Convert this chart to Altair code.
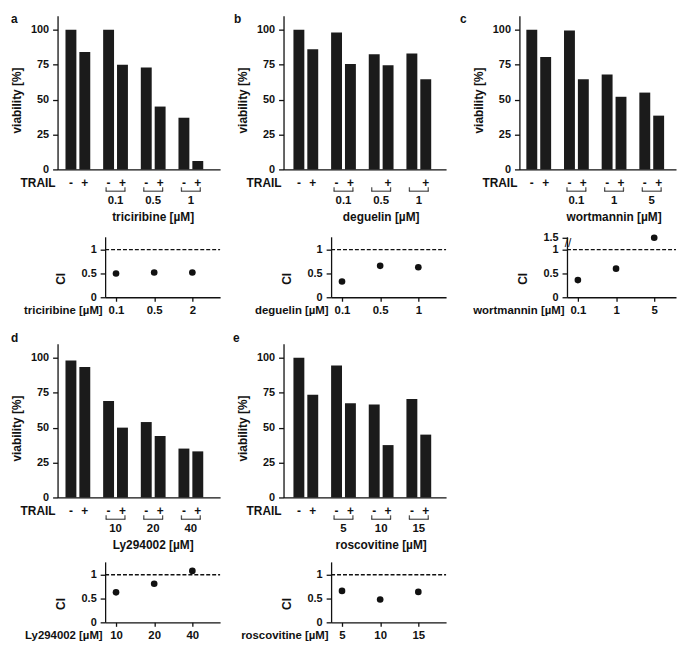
import altair as alt
import pandas as pd

FONT = "Liberation Sans"
INK = "#111111"
BAR = "#1b1b1b"

# ------------------------------------------------------------------ data
TRAIL = ["-", "+"]

A_DRUG = "triciribine"
A_CONC = ["", "0.1", "0.5", "1"]
A_MINUS = [100, 100, 73, 37]
A_PLUS = [84, 75, 45, 6]
A_MINUS_LABEL = ["-", "-", "-", "-"]
A_CI_DOSE = ["0.1", "0.5", "2"]
A_CI = [0.50, 0.52, 0.52]

B_DRUG = "deguelin"
B_CONC = ["", "0.1", "0.5", "1"]
B_MINUS = [100, 98, 82.5, 83]
B_PLUS = [86, 75.5, 74.5, 64.5]
B_MINUS_LABEL = ["-", "-", "", ""]
B_CI_DOSE = ["0.1", "0.5", "1"]
B_CI = [0.33, 0.66, 0.63]

C_DRUG = "wortmannin"
C_CONC = ["", "0.1", "1", "5"]
C_MINUS = [100, 99.5, 68, 55]
C_PLUS = [80.5, 64.5, 52, 38.5]
C_MINUS_LABEL = ["-", "-", "-", "-"]
C_CI_DOSE = ["0.1", "1", "5"]
C_CI = [0.36, 0.60, 1.5]

D_DRUG = "Ly294002"
D_CONC = ["", "10", "20", "40"]
D_MINUS = [98, 69, 54, 35]
D_PLUS = [93.5, 50, 44, 33]
D_MINUS_LABEL = ["-", "-", "-", "-"]
D_CI_DOSE = ["10", "20", "40"]
D_CI = [0.63, 0.81, 1.08]

E_DRUG = "roscovitine"
E_CONC = ["", "5", "10", "15"]
E_MINUS = [100, 94.5, 66.5, 70.5]
E_PLUS = [73.5, 67.5, 37.5, 45]
E_MINUS_LABEL = ["-", "-", "-", "-"]
E_CI_DOSE = ["5", "10", "15"]
E_CI = [0.66, 0.48, 0.64]

# ------------------------------------------------------------------ sizes
BAR_H = 155
CI_H = 61
CI_AXIS = 48          # CI y-axis sits this far right of the bar y-axis
STEP = 38             # bar group step (px)
CI_STEP = 38.5        # CI point step (px)
TXT = dict(font=FONT, fontWeight="bold", color=INK)


def bar_panel(letter, letter_dx, letter_y, drug, concs, minus, plus, minus_labels,
              width, left_gap):
    df = pd.DataFrame({
        "conc": [c for c in concs for _ in TRAIL],
        "trail": TRAIL * len(concs),
        "v": [v for pair in zip(minus, plus) for v in pair],
        "sign": [s for pair in zip(minus_labels, ["+"] * len(concs)) for s in pair],
    })
    groups = pd.DataFrame({"conc": concs[1:]})
    outer = width - (3 * STEP + 25)
    x = alt.X("conc:N", sort=concs,
              scale=alt.Scale(paddingInner=13 / STEP, paddingOuter=outer / (2 * STEP),
                              align=left_gap / outer),
              axis=alt.Axis(labels=False, ticks=False, title=None))
    xo = alt.XOffset("trail:N", sort=TRAIL, scale=alt.Scale(paddingInner=3 / 14, paddingOuter=0))

    bars = alt.Chart(df).mark_bar(color=BAR).encode(
        x=x, xOffset=xo,
        y=alt.Y("v:Q", scale=alt.Scale(domain=[0, 110], nice=False),
                axis=alt.Axis(values=[0, 25, 50, 75, 100], title="viability [%]",
                              titleX=-41, titleY=85, titleAlign="center",
                              titleBaseline="middle", tickSize=5, labelPadding=4)))
    signs = alt.Chart(df).mark_text(fontSize=12, baseline="alphabetic", **TXT).encode(
        x=x, xOffset=xo, y=alt.value(BAR_H + 17.5), text="sign:N")
    trail = alt.Chart(pd.DataFrame({"t": ["TRAIL"]})).mark_text(
        fontSize=12, baseline="alphabetic", align="right", **TXT).encode(
        x=alt.value(-2), y=alt.value(BAR_H + 17.5), text="t:N")
    br = alt.Chart(groups).mark_tick(orient="horizontal", size=20, thickness=1.3, color=INK).encode(
        x=x, y=alt.value(BAR_H + 22))
    brl = alt.Chart(groups).mark_tick(orient="vertical", size=4, thickness=1.3, color=INK,
                                      xOffset=-9.5).encode(x=x, y=alt.value(BAR_H + 20))
    brr = alt.Chart(groups).mark_tick(orient="vertical", size=4, thickness=1.3, color=INK,
                                      xOffset=9.5).encode(x=x, y=alt.value(BAR_H + 20))
    conc_t = alt.Chart(groups).mark_text(fontSize=11.5, baseline="alphabetic", **TXT).encode(
        x=x, y=alt.value(BAR_H + 35), text="conc:N")
    drug_t = alt.Chart(pd.DataFrame({"conc": [concs[2]], "name": [drug + " [µM]"]})).mark_text(
        fontSize=12, baseline="alphabetic", **TXT).encode(
        x=x, y=alt.value(BAR_H + 52.5), text="name:N")
    letter_t = alt.Chart(pd.DataFrame({"t": [letter]})).mark_text(
        fontSize=12, baseline="alphabetic", align="left", **TXT).encode(
        x=alt.value(letter_dx), y=alt.value(letter_y), text="t:N")

    return alt.layer(bars, signs, trail, br, brl, brr, conc_t, drug_t, letter_t).properties(
        width=width, height=BAR_H)


def ci_panel(drug, doses, ci, width, broken=False):
    df = pd.DataFrame({"dose": doses, "ci": ci})
    span = width - CI_AXIS
    pad = (span / CI_STEP - 2) / 2
    x = alt.X("dose:O", sort=doses,
              scale=alt.Scale(type="point", range=[CI_AXIS, width], padding=pad,
                              align=11 / (span - 2 * CI_STEP)),
              axis=alt.Axis(title=drug + " [µM]", titleX=CI_AXIS - 3, titleY=7,
                            titleAlign="right", titleBaseline="top", labelAngle=0,
                            tickSize=4, labelPadding=3, labelFontSize=11.5,
                            titleFontSize=11.5))
    yvals = [0, 0.5, 1] + ([1.25] if broken else [])
    y = alt.Y("disp:Q", scale=alt.Scale(domain=[0, 1.27], nice=False),
              axis=alt.Axis(values=yvals, format="~g", offset=-CI_AXIS,
                            labelExpr="datum.value > 1.2 ? '1.5' : datum.label",
                            title="CI", titleX=-45, titleY=42, titleAlign="center",
                            titleBaseline="middle", tickSize=5, labelPadding=4))
    pts = alt.Chart(df).transform_calculate(
        disp="datum.ci > 1.27 ? datum.ci - 0.25 : datum.ci"
    ).mark_circle(size=45, color=INK, opacity=1).encode(x=x, y=y)
    ref = alt.Chart(pd.DataFrame({"disp": [1.0]})).mark_rule(
        strokeDash=[4, 2], strokeWidth=1.3, color=INK).encode(
        y=y, x=alt.value(CI_AXIS), x2=alt.value(width))
    layers = [ref, pts]
    if broken:
        brk = alt.Chart(pd.DataFrame({"disp": [1.135], "t": ["//"]})).mark_text(
            fontSize=12, font=FONT, color=INK, dx=1).encode(
            x=alt.value(CI_AXIS), y=y, text="t:N")
        layers.append(brk)
    return alt.layer(*layers).properties(width=width, height=CI_H)


def spacer(w, h):
    return alt.Chart(pd.DataFrame({"s": [0]})).mark_point(opacity=0).encode(
        x=alt.X("s:Q", axis=None), y=alt.Y("s:Q", axis=None)).properties(width=w, height=h)


W_AB = 164
W_C = 158

bar_a = bar_panel("a", -47, 7, A_DRUG, A_CONC, A_MINUS, A_PLUS, A_MINUS_LABEL, W_AB, 8)
bar_b = bar_panel("b", -50, 7, B_DRUG, B_CONC, B_MINUS, B_PLUS, B_MINUS_LABEL, W_AB, 10)
bar_c = bar_panel("c", -60, 7, C_DRUG, C_CONC, C_MINUS, C_PLUS, C_MINUS_LABEL, W_C, 7)
bar_d = bar_panel("d", -47, -2, D_DRUG, D_CONC, D_MINUS, D_PLUS, D_MINUS_LABEL, W_AB, 8)
bar_e = bar_panel("e", -51, -2, E_DRUG, E_CONC, E_MINUS, E_PLUS, E_MINUS_LABEL, W_AB, 10)

ci_a = ci_panel(A_DRUG, A_CI_DOSE, A_CI, W_AB)
ci_b = ci_panel(B_DRUG, B_CI_DOSE, B_CI, W_AB)
ci_c = ci_panel(C_DRUG, C_CI_DOSE, C_CI, W_C, broken=True)
ci_d = ci_panel(D_DRUG, D_CI_DOSE, D_CI, W_AB)
ci_e = ci_panel(E_DRUG, E_CI_DOSE, E_CI, W_AB)

G0, G1, G2 = 47, 64, 74   # column gaps


def gap_row(h):
    return [spacer(1, h) for _ in range(6)]


cells = []
cells += gap_row(3)
cells += [spacer(G0, BAR_H), bar_a, spacer(G1, BAR_H), bar_b, spacer(G2, BAR_H), bar_c]
cells += gap_row(68)
cells += [spacer(G0, CI_H), ci_a, spacer(G1, CI_H), ci_b, spacer(G2, CI_H), ci_c]
cells += gap_row(47)
cells += [spacer(G0, BAR_H), bar_d, spacer(G1, BAR_H), bar_e, spacer(1, BAR_H), spacer(1, BAR_H)]
cells += gap_row(65)
cells += [spacer(G0, CI_H), ci_d, spacer(G1, CI_H), ci_e, spacer(1, CI_H), spacer(1, CI_H)]

chart = alt.concat(
    *cells, columns=6, spacing=0, bounds="flush", align="each", padding=0,
).configure(font=FONT).configure_view(stroke=None).configure_axis(
    grid=False, labelFont=FONT, titleFont=FONT, labelFontWeight="bold",
    titleFontWeight="bold", labelColor=INK, titleColor=INK, domainColor=INK,
    tickColor=INK, domainWidth=1.3, tickWidth=1.3, labelFontSize=11, titleFontSize=12,
)

chart.save("out.html", embed_options={"renderer": "svg", "actions": False})
